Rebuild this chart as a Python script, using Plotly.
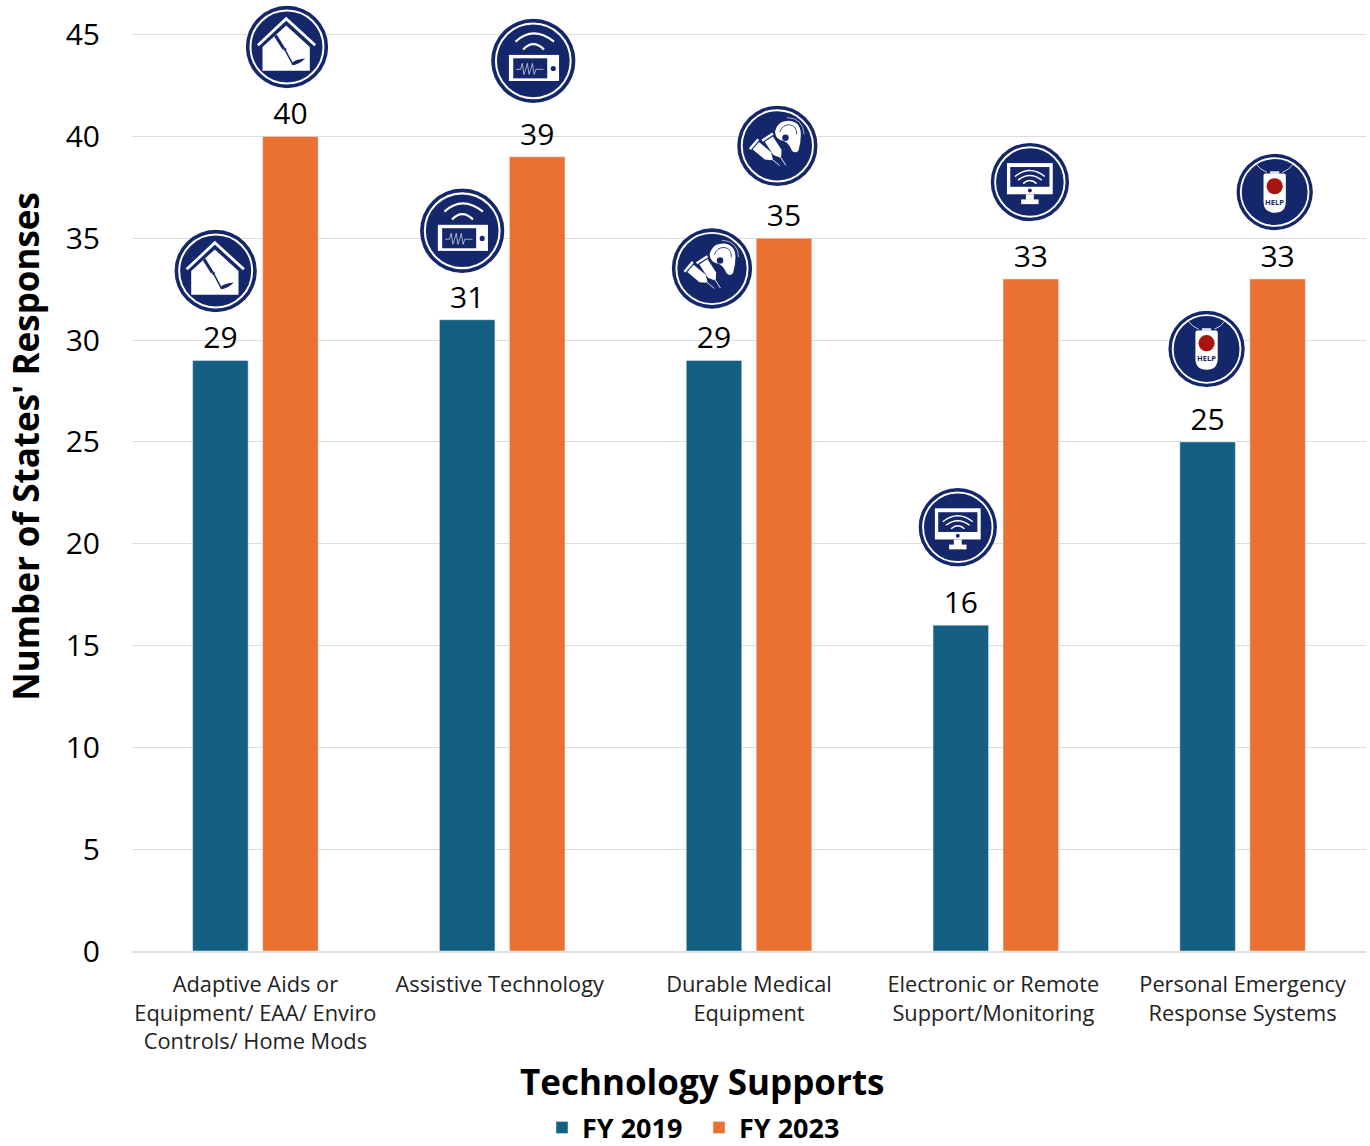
import base64
import plotly.graph_objects as go

categories = [
    "Adaptive Aids or<br>Equipment/ EAA/ Enviro<br>Controls/ Home Mods",
    "Assistive Technology",
    "Durable Medical<br>Equipment",
    "Electronic or Remote<br>Support/Monitoring",
    "Personal Emergency<br>Response Systems",
]
fy2019 = [29, 31, 29, 16, 25]
fy2023 = [40, 39, 35, 33, 33]
ytick_values = [0, 5, 10, 15, 20, 25, 30, 35, 40, 45]
label_positions = [0, 0.99, 2, 2.99, 4]

FONT = "Open Sans, sans-serif"
NAVY = "#15276B"
PX_PER_Y = 951.5 / 46.7
PX_PER_CAT = 1234 / 5


def wrap(body):
    svg = (
        '<svg xmlns="http://www.w3.org/2000/svg" viewBox="0 0 100 100" width="200" height="200">'
        f'<circle cx="50" cy="50" r="49.6" fill="{NAVY}"/>'
        '<circle cx="50" cy="50" r="44" fill="none" stroke="#fff" stroke-width="2.4"/>'
        + body + "</svg>"
    )
    return "data:image/svg+xml;base64," + base64.b64encode(svg.encode()).decode()


house = wrap(
    '<polygon points="20.5,50 49,24 77.5,50 77.5,78.5 20.5,78.5" fill="#fff"/>'
    '<polyline points="15,48 49,16 84,48" fill="none" stroke="#fff" stroke-width="3.4"/>'
    f'<path d="M36,36 L46,52" stroke="{NAVY}" stroke-width="3.6" fill="none"/>'
    f'<path d="M48,54 L57,71" stroke="{NAVY}" stroke-width="1.8" fill="none"/>'
    f'<path d="M56,72 Q64,72 72,64 Q62,65 57,68 Z" fill="{NAVY}"/>'
    f'<circle cx="47.5" cy="53" r="1.8" fill="{NAVY}"/>'
)
device = wrap(
    '<rect x="21.3" y="43" width="59" height="30.7" fill="#fff"/>'
    f'<rect x="26.4" y="47" width="40" height="23.6" fill="{NAVY}"/>'
    f'<circle cx="73.5" cy="59" r="3" fill="{NAVY}"/>'
    '<path d="M29,27.5 Q50,8 74.4,27.5 M38,36.6 Q50,24 62.6,36.6" fill="none" stroke="#fff" stroke-width="2.6"/>'
    '<polyline points="30,60 35,60 37,53 39,66 41,60 43,53 45,66 47,60 49,53 51,66 53,60 57,60 62,60" '
    'fill="none" stroke="#cfd6ea" stroke-width="0.9"/>'
)
syringe = (
    '<g transform="translate({tx},{ty}) rotate({r})">'
    '<rect x="0" y="-8" width="3" height="16" fill="#fff"/>'
    '<polygon points="4.4,-6 24,-6 31,-1 31,1 24,6 4.4,6" fill="#fff"/>'
    '<line x1="31" y1="0" x2="43" y2="0" stroke="#fff" stroke-width="1"/></g>'
)
dme = wrap(
    syringe.format(tx=37, ty=38, r=57)
    + syringe.format(tx=20, ty=47, r=40)
    + '<path d="M47,33 Q50,19 64,19 Q79,20 79,36 Q79,46 76,56 Q72,60 68,56 Q64,46 58,44 Q48,43 47,33 Z" fill="#fff"/>'
    + f'<circle cx="60" cy="40" r="4" fill="{NAVY}"/>'
    + f'<path d="M53,33 Q56,24 65,24 Q74,25 74,36" fill="none" stroke="{NAVY}" stroke-width="1"/>'
    + '<path d="M62,15 Q82,16 83,36" fill="none" stroke="#fff" stroke-width="0.8"/>'
)
monitor = wrap(
    '<rect x="21" y="26" width="58" height="39.5" fill="#fff"/>'
    f'<rect x="25.2" y="31" width="49.6" height="25" fill="{NAVY}"/>'
    f'<circle cx="50" cy="60.7" r="2.5" fill="{NAVY}"/>'
    '<rect x="45" y="65.5" width="10" height="7" fill="#fff"/>'
    '<rect x="39" y="72" width="22" height="6" fill="#fff"/>'
    '<path d="M31,43 Q50,28 69,43 M35,47.5 Q50,36 65,47.5 M41.5,52 Q50,44 58.5,52" fill="none" stroke="#fff" stroke-width="1.8"/>'
)
help_icon = wrap(
    '<path d="M26,13.6 Q31,21 40,24.5 M74,13.6 Q69,21 60,24.5" fill="none" stroke="#fff" stroke-width="1"/>'
    '<rect x="44" y="23" width="12" height="3.4" fill="#dfe3ef"/>'
    '<path d="M38,26 H62 Q64.5,26 64.5,28.5 V62 Q64.5,77 50,77 Q35.5,77 35.5,62 V28.5 Q35.5,26 38,26 Z" fill="#fff"/>'
    '<circle cx="50" cy="42.5" r="10.5" fill="#A8140F"/>'
)

# icon, category index, x offset (categories), px above the bar top, diameter in px
icon_rows = [
    (house, 0, -0.161, fy2019[0], 89.5, 83),
    (house, 0, 0.128, fy2023[0], 89.5, 83),
    (device, 1, -0.162, fy2019[1], 89.0, 85),
    (device, 1, 0.126, fy2023[1], 96.0, 85),
    (dme, 2, -0.150, fy2019[2], 92.0, 81),
    (dme, 2, 0.115, fy2023[2], 92.5, 81),
    (monitor, 3, -0.154, fy2019[3], 98.0, 79),
    (monitor, 3, 0.138, fy2023[3], 97.0, 79),
    (help_icon, 4, -0.146, fy2019[4], 93.0, 77),
    (help_icon, 4, 0.130, fy2023[4], 87.0, 77),
]

fig = go.Figure()
fig.add_bar(
    name="FY 2019", x=list(range(5)), y=fy2019, marker_color="#156082",
    text=[str(v) for v in fy2019], textposition="outside", cliponaxis=False,
    textfont=dict(family=FONT, size=30, color="#000"), hoverinfo="skip",
)
fig.add_bar(
    name="FY 2023", x=list(range(5)), y=fy2023, marker_color="#E97132",
    text=[str(v) for v in fy2023], textposition="outside", cliponaxis=False,
    textfont=dict(family=FONT, size=30, color="#000"), hoverinfo="skip",
)

images = []
annotations = []
for src, cat, dx, val, up, dia in icon_rows:
    cy = val + up / PX_PER_Y
    images.append(dict(
        source=src, xref="x", yref="y", x=cat + dx, y=cy,
        sizex=dia / PX_PER_CAT, sizey=dia / PX_PER_Y,
        xanchor="center", yanchor="middle", sizing="contain", layer="above",
    ))
    if src is help_icon:
        annotations.append(dict(
            text="<b>HELP</b>", xref="x", yref="y", x=cat + dx, y=cy - 9.5 / PX_PER_Y,
            showarrow=False, font=dict(family=FONT, size=7.5, color=NAVY),
        ))

annotations.append(dict(
    text="<b>Technology Supports</b>", xref="paper", yref="paper",
    x=(702 - 132) / 1234, y=(951.5 - 1082) / 951.5, xanchor="center", yanchor="middle",
    showarrow=False, font=dict(family=FONT, size=35, color="#000"),
))
annotations.append(dict(
    text="<b>Number of States' Responses</b>", xref="paper", yref="paper",
    x=(26 - 132) / 1234, y=(951.5 - 447) / 951.5, textangle=-90, xanchor="center", yanchor="middle",
    showarrow=False, font=dict(family=FONT, size=35, color="#000"),
))

fig.update_layout(
    width=1370, height=1146, autosize=False,
    margin=dict(l=132, r=4, t=0, b=194.5, pad=0),
    paper_bgcolor="#fff", plot_bgcolor="#fff",
    barmode="group", bargap=0.4327, bargroupgap=0.207,
    images=images, annotations=annotations,
    legend=dict(
        orientation="h", xref="container", yref="container",
        x=542 / 1370, y=1 - 1103.5 / 1146, xanchor="left", yanchor="top",
        entrywidth=112, entrywidthmode="pixels",
        font=dict(family=FONT, size=27, color="#000", weight="bold"),
        bgcolor="rgba(0,0,0,0)", itemclick=False, itemdoubleclick=False,
    ),
    font=dict(family=FONT, color="#000"),
    xaxis=dict(
        type="linear", range=[-0.5, 4.5], tickmode="array", tickvals=label_positions, ticktext=categories,
        tickfont=dict(family=FONT, size=21.8, color="#222"), ticks="outside", ticklen=13,
        tickcolor="rgba(0,0,0,0)", showgrid=False,
        showline=True, linecolor="#e0e0e0", linewidth=2, zeroline=False, tickangle=0, automargin=False,
    ),
    yaxis=dict(
        range=[0, 46.7], tickmode="array", tickvals=ytick_values,
        tickfont=dict(family=FONT, size=30, color="#000"), ticks="outside", ticklen=25,
        tickcolor="rgba(0,0,0,0)",
        showgrid=True, gridcolor="#dcdcdc", gridwidth=1, zeroline=False, showline=False, automargin=False,
    ),
)
fig.write_html("out.html", config={"displayModeBar": False},
               post_script="document.body.style.margin='0';")
